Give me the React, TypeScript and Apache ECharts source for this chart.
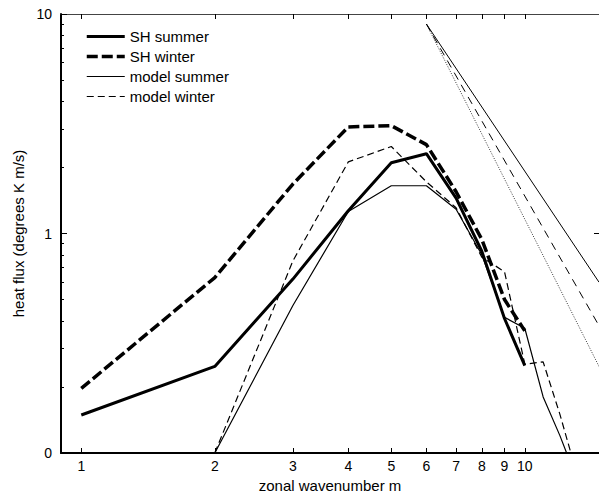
import React, { useEffect, useRef } from "react";
import * as echarts from "echarts";

const FONT = "'Liberation Sans', Arial, Helvetica, sans-serif";

// Observed (SH) spectra, wavenumbers 1..10
const mSH = [1, 2, 3, 4, 5, 6, 7, 8, 9, 10];
const shSummer = [0.149, 0.248, 0.62, 1.27, 2.1, 2.31, 1.45, 0.83, 0.41, 0.25];
const shWinter = [0.197, 0.63, 1.68, 3.06, 3.1, 2.54, 1.55, 0.94, 0.5, 0.36];

// Model spectra
const mModel = [2, 3, 4, 5, 6, 7, 8, 9, 10, 11, 12, 13];
const modelSummer = [0.1, 0.47, 1.26, 1.65, 1.65, 1.29, 0.8, 0.415, 0.37, 0.18, 0.12, 0.079];
const modelWinter = [0.1, 0.75, 2.12, 2.49, 1.72, 1.31, 0.78, 0.67, 0.254, 0.26, 0.15, 0.085];

// Reference slope lines (start / end points)
const refM = [6, 14.7];
const refSolid = [9.0, 0.6];
const refDashed = [9.0, 0.38];
const refDotted = [9.0, 0.248];

// Axis ticks
const xTicks = [1, 2, 3, 4, 5, 6, 7, 8, 9, 10];
const yMajorTicks = [0.1, 1, 10];
const yTickLabels = ["0", "1", "10"];
const yMinorTicks = [0.2, 0.3, 0.4, 0.5, 0.6, 0.7, 0.8, 0.9, 2, 3, 4, 5, 6, 7, 8, 9];
const yRightTicks = [1];

const X_MIN = 0.9;
const X_MAX = 14.7;
const Y_MIN = 0.1;
const Y_MAX = 10;

const pairs = (xs: number[], ys: number[]) => xs.map((x, i) => [x, ys[i]]);

export default function App() {
  const ref = useRef<HTMLDivElement>(null);

  useEffect(() => {
    if (!ref.current) return;
    const chart = echarts.init(ref.current, null, { renderer: "svg" });

    const baseLog = {
      type: "log" as const,
      logBase: 10,
      splitLine: { show: false },
      minorTick: { show: false },
      minorSplitLine: { show: false },
    };

    const option: any = {
      animation: false,
      backgroundColor: "#fff",
      grid: { left: 61, top: 14, right: -2, bottom: 44 },
      legend: {
        data: [
          { name: "SH summer", lineStyle: { width: 3, type: "solid", color: "#000" } },
          { name: "SH winter", lineStyle: { width: 3.5, type: [11, 4], color: "#000" } },
          { name: "model summer", lineStyle: { width: 1.2, type: "solid", color: "#000" } },
          { name: "model winter", lineStyle: { width: 1.2, type: [7, 4], color: "#000" } },
        ],
        orient: "vertical",
        left: 80,
        top: 24,
        itemWidth: 38,
        itemHeight: 14,
        itemGap: 5,
        selectedMode: false,
        itemStyle: { opacity: 0 },
        textStyle: { fontFamily: FONT, fontSize: 15, color: "#000" },
      },
      xAxis: [
        {
          ...baseLog,
          position: "bottom",
          min: X_MIN,
          max: X_MAX,
          axisLine: { show: true, onZero: false, lineStyle: { color: "#000", width: 2 } },
          axisTick: {
            show: true,
            inside: true,
            length: 5,
            customValues: xTicks,
            lineStyle: { color: "#000", width: 1 },
          },
          axisLabel: {
            show: true,
            customValues: xTicks,
            formatter: (v: number) => String(Math.round(v)),
            color: "#000",
            fontFamily: FONT,
            fontSize: 14,
            margin: 6,
          },
          name: "zonal wavenumber m",
          nameLocation: "middle",
          nameGap: 25,
          nameTextStyle: { fontFamily: FONT, fontSize: 15, color: "#000" },
        },
        {
          ...baseLog,
          position: "top",
          min: X_MIN,
          max: X_MAX,
          axisLine: { show: true, onZero: false, lineStyle: { color: "#444", width: 1 } },
          axisTick: {
            show: true,
            inside: true,
            length: 5,
            customValues: xTicks,
            lineStyle: { color: "#000", width: 1 },
          },
          axisLabel: { show: false },
        },
      ],
      yAxis: [
        {
          ...baseLog,
          position: "left",
          min: Y_MIN,
          max: Y_MAX,
          axisLine: { show: true, onZero: false, lineStyle: { color: "#000", width: 2 } },
          axisTick: {
            show: true,
            inside: true,
            length: 6,
            customValues: yMajorTicks,
            lineStyle: { color: "#000", width: 1 },
          },
          axisLabel: {
            show: true,
            customValues: yMajorTicks,
            formatter: (v: number) => {
              const i = yMajorTicks.findIndex((t) => Math.abs(t - v) < 1e-9 * Math.max(1, t));
              return i >= 0 ? yTickLabels[i] : "";
            },
            color: "#000",
            fontFamily: FONT,
            fontSize: 14,
            margin: 9,
          },
          name: "heat flux (degrees K m/s)",
          nameLocation: "middle",
          nameGap: 34,
          nameTextStyle: { fontFamily: FONT, fontSize: 15, color: "#000" },
        },
        {
          ...baseLog,
          position: "left",
          min: Y_MIN,
          max: Y_MAX,
          axisLine: { show: false },
          axisTick: {
            show: true,
            inside: true,
            length: 3,
            customValues: yMinorTicks,
            lineStyle: { color: "#000", width: 1 },
          },
          axisLabel: { show: false },
        },
        {
          ...baseLog,
          position: "right",
          min: Y_MIN,
          max: Y_MAX,
          axisLine: { show: true, onZero: false, lineStyle: { color: "#000", width: 1 } },
          axisTick: {
            show: true,
            inside: true,
            length: 5,
            customValues: yRightTicks,
            lineStyle: { color: "#000", width: 1 },
          },
          axisLabel: { show: false },
        },
      ],
      series: [
        {
          name: "SH summer",
          type: "line",
          data: pairs(mSH, shSummer),
          symbol: "none",
          itemStyle: { color: "#000" },
          lineStyle: { color: "#000", width: 3, type: "solid" },
          z: 6,
        },
        {
          name: "SH winter",
          type: "line",
          data: pairs(mSH, shWinter),
          symbol: "none",
          itemStyle: { color: "#000" },
          lineStyle: { color: "#000", width: 3.5, type: [11, 4] },
          z: 5,
        },
        {
          name: "model summer",
          type: "line",
          data: pairs(mModel, modelSummer),
          symbol: "none",
          itemStyle: { color: "#000" },
          lineStyle: { color: "#000", width: 1.2, type: "solid" },
          z: 4,
        },
        {
          name: "model winter",
          type: "line",
          data: pairs(mModel, modelWinter),
          symbol: "none",
          itemStyle: { color: "#000" },
          lineStyle: { color: "#000", width: 1.2, type: [7, 4] },
          z: 4,
        },
        {
          name: "slope -3",
          type: "line",
          data: pairs(refM, refSolid),
          symbol: "none",
          silent: true,
          lineStyle: { color: "#000", width: 1, type: "solid" },
        },
        {
          name: "slope -3.5",
          type: "line",
          data: pairs(refM, refDashed),
          symbol: "none",
          silent: true,
          lineStyle: { color: "#000", width: 1, type: [8, 6] },
        },
        {
          name: "slope -4",
          type: "line",
          data: pairs(refM, refDotted),
          symbol: "none",
          silent: true,
          lineStyle: { color: "#000", width: 0.8, type: [1, 1.5] },
        },
      ],
    };

    chart.setOption(option);
    return () => chart.dispose();
  }, []);

  return (
    <div
      ref={ref}
      style={{ position: "fixed", left: 0, top: 0, width: 599, height: 498, background: "#fff" }}
    />
  );
}
